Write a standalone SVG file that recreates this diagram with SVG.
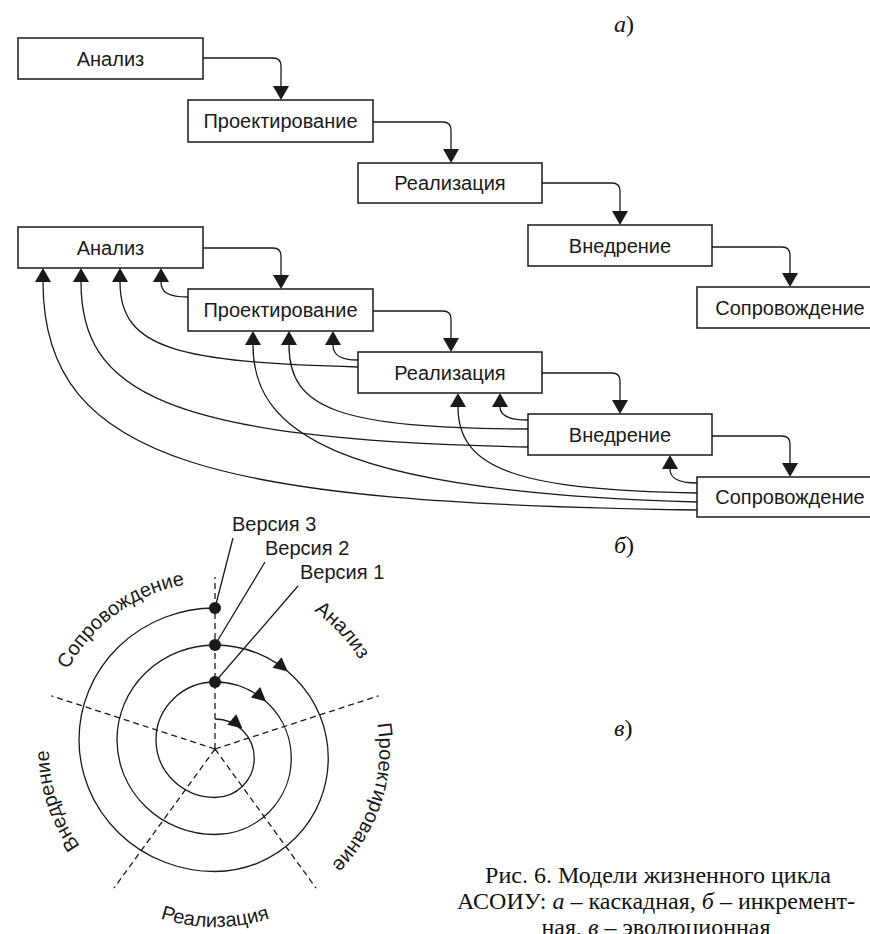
<svg xmlns="http://www.w3.org/2000/svg" width="870" height="934" viewBox="0 0 870 934">
<style>
.box rect{fill:#fff;stroke:#1a1a1a;stroke-width:1.5}
.lbl{font-family:"Liberation Sans",Arial,sans-serif;font-size:20px;fill:#1a1a1a;text-anchor:middle}
.lbs{font-family:"Liberation Sans",Arial,sans-serif;font-size:20px;fill:#1a1a1a}
.con{fill:none;stroke:#1a1a1a;stroke-width:1.3}
.arr{marker-end:url(#ah)}
.dash{fill:none;stroke:#1a1a1a;stroke-width:1.3;stroke-dasharray:6 4}
.ser{font-family:"Liberation Serif","Times New Roman",serif;font-size:24px;fill:#111}
.it{font-style:italic}
.ah2{fill:#1a1a1a}
</style>
<defs>
<marker id="ah" viewBox="0 0 14 16" refX="0" refY="8" markerWidth="14" markerHeight="16" markerUnits="userSpaceOnUse" orient="auto"><path d="M0,0 L14,8 L0,16 z" fill="#1a1a1a"/></marker>
<path id="pSop" d="M48.9,766.6 A167,167 0 0 1 282.9,596.4"/>
<path id="pAn" d="M176.8,583.4 A170,170 0 0 1 377.6,798.7"/>
<path id="pPr" d="M311.4,616.1 A164,164 0 0 1 215,913"/>
<path id="pRe" d="M60.8,838 A178,178 0 0 0 369.2,838"/>
<path id="pVn" d="M180.5,911.6 A166,166 0 0 1 91.6,638"/>
</defs>

<!-- a) waterfall -->
<g id="a-analiz" class="box"><rect x="18" y="38" width="185" height="41"/><text class="lbl" x="110.5" y="65.5">Анализ</text></g>
<g id="a-proekt" class="box"><rect x="188" y="100" width="185" height="42"/><text class="lbl" x="280.5" y="128">Проектирование</text></g>
<g id="a-real" class="box"><rect x="358" y="163" width="184" height="40"/><text class="lbl" x="450" y="190">Реализация</text></g>
<g id="a-vnedr" class="box"><rect x="528" y="225" width="184" height="41"/><text class="lbl" x="620" y="252.5">Внедрение</text></g>
<g id="a-sopr" class="box"><rect x="697" y="287" width="186" height="41"/><text class="lbl" x="790" y="314.5">Сопровождение</text></g>

<g id="a-connectors">
<path class="con arr" d="M203,58 H273 Q281,58 281,66 V86"/>
<path class="con arr" d="M373,122 H443 Q451,122 451,130 V149"/>
<path class="con arr" d="M542,183 H612 Q620,183 620,191 V211"/>
<path class="con arr" d="M712,247 H782 Q790,247 790,255 V273"/>
</g>

<!-- b) incremental -->
<g id="b-connectors">
<path class="con arr" d="M203,248 H273 Q281,248 281,256 V275"/>
<path class="con arr" d="M373,311 H443 Q451,311 451,319 V338"/>
<path class="con arr" d="M542,373 H612 Q620,373 620,381 V400"/>
<path class="con arr" d="M712,436 H782 Q790,436 790,444 V463"/>
<path class="con arr" d="M188,297 C168,297 161,292 161,282"/>
<path class="con arr" d="M358,367 C180,362 120,350 120,282"/>
<path class="con arr" d="M528,447 C160,440 81,390 81,282"/>
<path class="con arr" d="M697,510 C220,503 43,465 43,282"/>
<path class="con arr" d="M358,360 C340,360 333,355 333,345"/>
<path class="con arr" d="M528,429 C340,428 289,410 289,345"/>
<path class="con arr" d="M697,502 C330,492 253,430 253,345"/>
<path class="con arr" d="M528,420 C508,420 500,415 500,407"/>
<path class="con arr" d="M697,493 C520,490 458,470 458,407"/>
<path class="con arr" d="M697,483 C677,483 670,478 670,469"/>
</g>
<g id="b-analiz" class="box"><rect x="18" y="227" width="185" height="41"/><text class="lbl" x="110.5" y="254.5">Анализ</text></g>
<g id="b-proekt" class="box"><rect x="188" y="289" width="185" height="42"/><text class="lbl" x="280.5" y="317">Проектирование</text></g>
<g id="b-real" class="box"><rect x="358" y="352" width="184" height="41"/><text class="lbl" x="450" y="379.5">Реализация</text></g>
<g id="b-vnedr" class="box"><rect x="528" y="414" width="184" height="41"/><text class="lbl" x="620" y="441.5">Внедрение</text></g>
<g id="b-sopr" class="box"><rect x="697" y="477" width="186" height="40"/><text class="lbl" x="790" y="504">Сопровождение</text></g>

<!-- c) spiral -->
<g id="c-spiral">
<path class="dash" d="M215,749 V577 M215,749 L378.6,695.8 M215,749 L316.1,888.2 M215,749 L113.9,888.2 M215,749 L51.4,695.8"/>
<path class="con" d="M215,719 A39.25,39.25 0 0 1 215,797.5 A59,57.75 0 0 1 215,682 A76.25,76.25 0 0 1 215,834.5 A98,94.75 0 0 1 215,645 A113.25,113.25 0 0 1 215,871.5 A136,131.75 0 0 1 215,608"/>
<polygon class="ah2" points="0,0 -14,-7 -14,7" transform="translate(242.5,728.5) rotate(40)"/>
<polygon class="ah2" points="0,0 -14,-7 -14,7" transform="translate(266,701.6) rotate(42)"/>
<polygon class="ah2" points="0,0 -14,-7 -14,7" transform="translate(287.8,671.5) rotate(40)"/>
<circle class="ah2" cx="215" cy="682" r="6"/>
<circle class="ah2" cx="215" cy="645" r="6"/>
<circle class="ah2" cx="215" cy="608" r="6"/>
<path class="con" d="M215,682 L298,586 M215,645 L265,562 M215,608 L233,538"/>
<text class="lbs" x="232" y="531">Версия 3</text>
<text class="lbs" x="265" y="555">Версия 2</text>
<text class="lbs" x="300" y="579">Версия 1</text>
<text class="lbl"><textPath href="#pSop" startOffset="50%">Сопровождение</textPath></text>
<text class="lbl"><textPath href="#pAn" startOffset="50%">Анализ</textPath></text>
<text class="lbl"><textPath href="#pPr" startOffset="50%">Проектирование</textPath></text>
<text class="lbl"><textPath href="#pRe" startOffset="50%">Реализация</textPath></text>
<text class="lbl"><textPath href="#pVn" startOffset="50%">Внедрение</textPath></text>
</g>

<!-- labels -->
<text class="ser" x="614" y="32"><tspan class="it">а</tspan>)</text>
<text class="ser" x="614" y="553"><tspan class="it">б</tspan>)</text>
<text class="ser" x="614" y="736"><tspan class="it">в</tspan>)</text>
<text class="ser" text-anchor="middle" x="658" y="883">Рис. 6. Модели жизненного цикла</text>
<text class="ser" text-anchor="middle" x="656" y="909">АСОИУ: <tspan class="it">а</tspan> – каскадная, <tspan class="it">б</tspan> – инкремент-</text>
<text class="ser" text-anchor="middle" x="656" y="935">ная, <tspan class="it">в</tspan> – эволюционная</text>
</svg>
